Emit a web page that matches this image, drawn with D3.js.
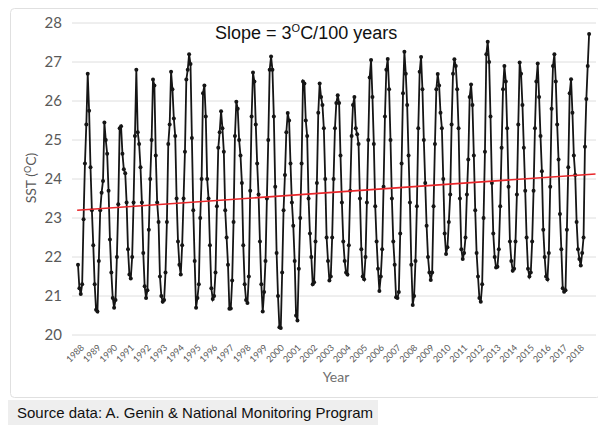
<!DOCTYPE html>
<html>
<head>
<meta charset="utf-8">
<script src="https://cdn.jsdelivr.net/npm/d3@7"></script>
<style>
  body { margin: 0; background: #fff; }
  svg { display: block; }
  .axis text { font-family: Lato, "Open Sans", sans-serif; fill: #595959; }
</style>
</head>
<body>
<svg id="chart"></svg>
<script>
// monthly sea surface temperature, Jan 1988 .. Sep 2018
const startYear = 1988;
const sst = [
  21.8, 21.2, 21.05, 21.3, 22.97, 24.4, 25.4, 26.7, 25.75, 24.3, 23.2, 22.3,   // 1988
  21.3, 20.65, 20.6, 21.9, 23.2, 23.65, 23.95, 25.45, 25.0, 24.65, 23.7, 22.45, // 1989
  21.6, 20.95, 20.7, 20.9, 22.0, 23.35, 25.3, 25.35, 24.65, 24.25, 24.15, 23.4, // 1990
  22.2, 21.55, 21.45, 22.0, 23.4, 25.1, 26.8, 25.2, 24.9, 24.3, 23.4, 22.1,   // 1991
  21.25, 20.95, 21.15, 22.7, 24.0, 25.0, 26.55, 26.4, 24.6, 23.4, 22.9, 21.5, // 1992
  21.0, 20.85, 20.9, 21.6, 22.9, 24.9, 25.4, 26.75, 26.3, 25.55, 25.1, 23.5,  // 1993
  22.4, 21.8, 21.55, 22.3, 23.5, 24.7, 26.55, 26.8, 27.2, 26.95, 25.05, 23.2, // 1994
  21.9, 20.7, 20.95, 21.3, 23.0, 24.0, 26.2, 26.4, 25.6, 24.0, 23.5, 22.3,    // 1995
  21.2, 20.92, 21.0, 21.6, 23.3, 24.8, 25.2, 25.74, 25.3, 24.7, 23.2, 22.5,   // 1996
  21.8, 20.67, 20.68, 21.4, 22.9, 25.1, 25.98, 25.8, 25.0, 24.6, 23.9, 22.3,  // 1997
  21.3, 20.9, 20.82, 21.5, 23.7, 25.6, 26.73, 26.5, 25.4, 24.4, 23.6, 22.4,   // 1998
  21.3, 20.6, 21.1, 21.9, 23.5, 25.0, 26.8, 27.14, 26.8, 25.6, 23.8, 22.1,    // 1999
  21.0, 20.2, 20.18, 21.6, 23.2, 24.1, 25.2, 25.69, 25.5, 24.4, 23.4, 22.8,   // 2000
  21.9, 20.5, 20.37, 21.7, 23.0, 24.4, 26.5, 26.45, 25.5, 25.1, 23.5, 22.6,   // 2001
  22.0, 21.3, 21.35, 22.4, 23.9, 25.7, 26.45, 26.1, 25.9, 25.3, 24.0, 22.5,   // 2002
  21.9, 21.4, 21.5, 22.5, 24.0, 25.3, 25.95, 26.15, 25.95, 24.6, 23.4, 22.4,  // 2003
  21.9, 21.6, 21.55, 22.3, 23.7, 25.1, 25.9, 26.1, 25.3, 25.15, 24.9, 23.5,   // 2004
  22.2, 21.5, 21.43, 22.0, 23.4, 25.0, 26.6, 27.05, 26.1, 24.9, 23.3, 22.4,   // 2005
  21.7, 21.13, 21.5, 22.2, 23.8, 25.6, 26.8, 27.08, 26.3, 25.0, 23.5, 22.4,   // 2006
  21.8, 20.97, 20.95, 21.1, 22.6, 24.4, 26.2, 27.26, 26.7, 25.9, 24.6, 23.4,  // 2007
  21.8, 20.77, 21.0, 21.9, 23.3, 25.3, 26.75, 27.13, 26.3, 25.0, 23.9, 22.8,  // 2008
  22.0, 21.6, 21.41, 21.6, 23.3, 24.9, 26.3, 26.69, 26.4, 25.7, 25.3, 24.0,   // 2009
  22.6, 22.08, 22.25, 22.9, 23.6, 25.4, 26.7, 27.07, 26.9, 26.3, 25.3, 23.5,  // 2010
  22.2, 21.95, 22.1, 22.5, 23.6, 24.5, 26.1, 26.42, 25.9, 24.6, 23.2, 22.1,   // 2011
  21.5, 20.95, 20.85, 21.3, 23.0, 24.7, 27.2, 27.52, 27.0, 25.6, 23.9, 22.6,  // 2012
  22.0, 21.73, 21.75, 22.2, 23.3, 24.8, 26.3, 26.9, 26.5, 25.3, 23.8, 22.4,   // 2013
  21.9, 21.65, 21.7, 22.4, 23.6, 25.4, 26.99, 26.7, 25.9, 24.8, 23.7, 22.5,   // 2014
  21.7, 21.5, 21.6, 22.4, 23.7, 25.3, 26.5, 26.96, 26.1, 25.1, 24.2, 22.7,    // 2015
  22.0, 21.5, 21.43, 22.1, 23.8, 25.8, 26.9, 27.2, 26.5, 25.4, 24.5, 23.1,    // 2016
  22.2, 21.2, 21.11, 21.15, 22.7, 24.3, 26.2, 26.56, 25.7, 24.6, 24.1, 22.9,  // 2017
  22.2, 21.95, 21.78, 22.1, 22.5, 24.83, 26.05, 26.9, 27.72                   // 2018
];
const yearTicks = d3.range(1988, 2019);
const sstTicks = [20, 21, 22, 23, 24, 25, 26, 27, 28];
const trendYears = [1987.95, 2019.05];
const trendSst = [23.2, 24.13];

const data = sst.map((v, i) => ({ t: startYear + i / 12, v: v }));

const width = 598, height = 425;
const svg = d3.select('#chart').attr('width', width).attr('height', height);

// chart frame
svg.append('rect')
  .attr('x', 10.5).attr('y', 8.5)
  .attr('width', 590).attr('height', 389)
  .attr('rx', 4)
  .attr('fill', '#fff').attr('stroke', '#e0e0e0');

const xScale = d3.scaleLinear().domain([1988, 2018]).range([78, 578]);
const yScale = d3.scaleLinear().domain([20, 28]).range([335, 23]);

// gridlines
svg.append('g')
  .selectAll('line')
  .data(sstTicks)
  .join('line')
  .attr('x1', 72).attr('x2', 596)
  .attr('y1', d => yScale(d)).attr('y2', d => yScale(d))
  .attr('stroke', '#dedede').attr('stroke-width', 1);

// y axis
const yAxisG = svg.append('g')
  .attr('class', 'axis')
  .attr('transform', 'translate(64,0)')
  .call(d3.axisLeft(yScale).tickValues(sstTicks).tickSize(0).tickPadding(2))
  .call(g => g.select('.domain').remove());
yAxisG.selectAll('text').attr('font-size', 15);

// x axis
const xAxisG = svg.append('g')
  .attr('class', 'axis')
  .attr('transform', 'translate(0,338)')
  .call(d3.axisBottom(xScale).tickValues(yearTicks).tickFormat(d3.format('d')).tickSize(0))
  .call(g => g.select('.domain').remove());
xAxisG.selectAll('text')
  .attr('font-size', 9)
  .attr('fill', '#7a7a7a')
  .attr('text-anchor', 'end')
  .attr('transform', 'translate(4,8) rotate(-45)')
  .attr('y', 0).attr('dy', '0.35em');

// data line and markers
const line = d3.line().x(d => xScale(d.t)).y(d => yScale(d.v));
svg.append('path')
  .datum(data)
  .attr('d', line)
  .attr('fill', 'none')
  .attr('stroke', '#151515')
  .attr('stroke-width', 1.8);

svg.append('g')
  .selectAll('circle')
  .data(data)
  .join('circle')
  .attr('cx', d => xScale(d.t))
  .attr('cy', d => yScale(d.v))
  .attr('r', 2)
  .attr('fill', '#151515');

// trend line
svg.append('line')
  .attr('x1', xScale(trendYears[0])).attr('x2', xScale(trendYears[1]))
  .attr('y1', yScale(trendSst[0])).attr('y2', yScale(trendSst[1]))
  .attr('stroke', '#e8262a').attr('stroke-width', 1.6);

// title
const title = svg.append('text')
  .attr('x', 215).attr('y', 39)
  .attr('font-family', 'Liberation Sans, Arial, sans-serif')
  .attr('font-size', 18)
  .attr('fill', '#111');
title.append('tspan').text('Slope = 3');
title.append('tspan').attr('font-size', 11).attr('dy', -7).text('O');
title.append('tspan').attr('dy', 7).text('C/100 years');

// axis titles
svg.append('text')
  .attr('x', 336).attr('y', 382)
  .attr('text-anchor', 'middle')
  .attr('font-family', 'Lato, sans-serif')
  .attr('font-size', 14)
  .attr('fill', '#707070')
  .text('Year');

const yLabel = svg.append('text')
  .attr('transform', 'translate(36,178) rotate(-90)')
  .attr('text-anchor', 'middle')
  .attr('font-family', 'Lato, sans-serif')
  .attr('font-size', 14)
  .attr('fill', '#595959');
yLabel.append('tspan').text('SST (');
yLabel.append('tspan').attr('font-size', 9).attr('dy', -5).text('O');
yLabel.append('tspan').attr('dy', 5).text('C)');

// source note
svg.append('rect')
  .attr('x', 8).attr('y', 400)
  .attr('width', 370).attr('height', 25)
  .attr('fill', '#eeeeee');
svg.append('text')
  .attr('x', 17).attr('y', 418)
  .attr('font-family', 'Liberation Sans, Arial, sans-serif')
  .attr('font-size', 15)
  .attr('fill', '#111')
  .text('Source data: A. Genin & National Monitoring Program');
</script>
</body>
</html>
